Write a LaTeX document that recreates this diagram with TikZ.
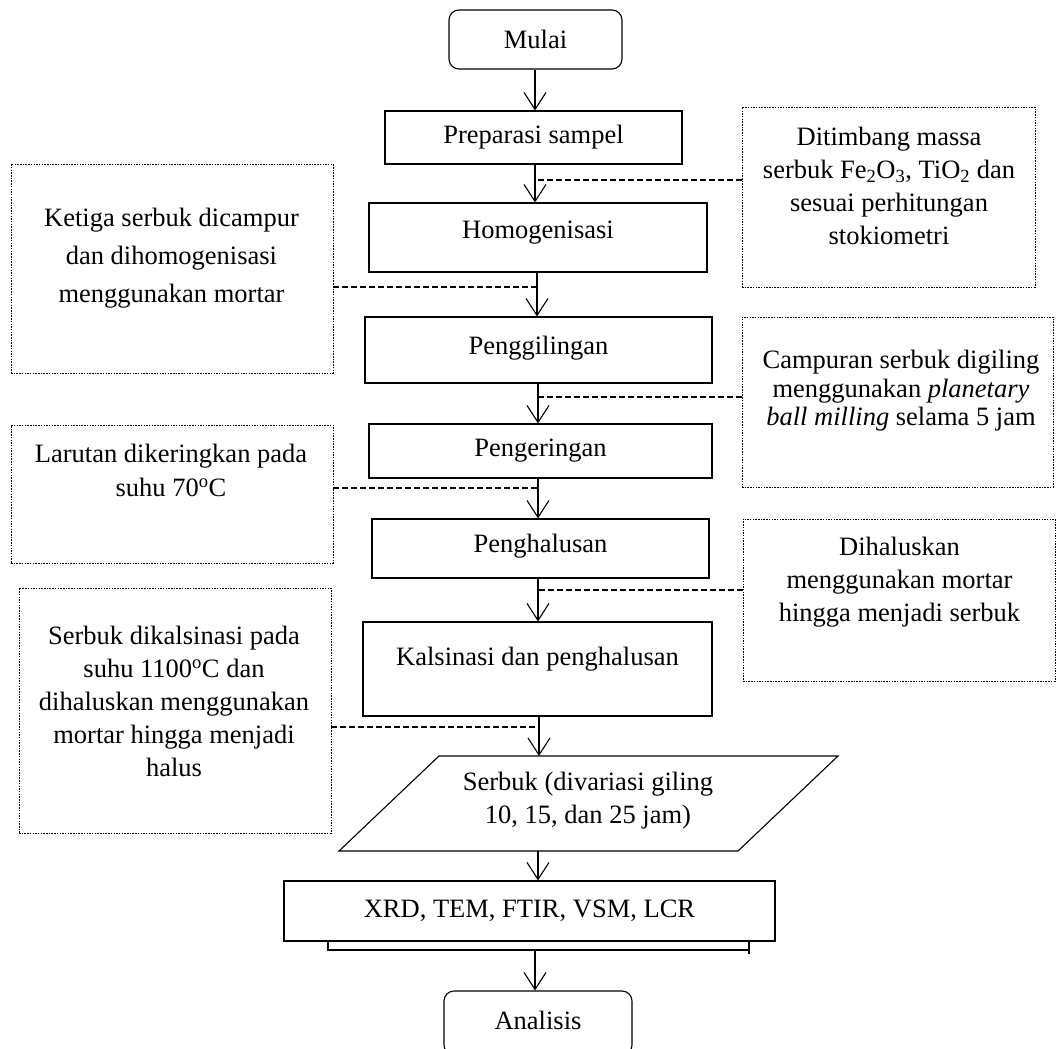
\documentclass[tikz,border=0pt]{standalone}
\usepackage{fontspec}
\setmainfont{Liberation Serif}
\usetikzlibrary{arrows.meta}
\tikzset{
  proc/.style={draw, line width=1.1pt, rectangle, inner sep=0pt},
  term/.style={draw, line width=1.1pt, rectangle, rounded corners=10pt, inner sep=0pt},
  note/.style={draw, line width=0.8pt, dash pattern=on 1.5pt off 1.2pt, inner sep=0pt},
  txt/.style={align=center, inner sep=0pt, font=\fontsize{26.5}{33}\selectfont},
  arr/.style={line width=1.1pt, -{Straight Barb[length=17pt,width=22pt]}},
  dsh/.style={line width=1.1pt, dash pattern=on 6pt off 3pt},
  ln/.style={line width=1.1pt},
}
\begin{document}
\begin{tikzpicture}[x=1pt,y=-1pt]
\clip (0,0) rectangle (1060,1049);
\fill[white] (0,0) rectangle (1060,1049);
% main column boxes
\node[term, minimum width=173pt, minimum height=59pt] (mulai) at (535.5,39.5) {};
\node[txt] (mulait) at (535.5,39.5) {Mulai};
\node[proc, minimum width=297pt, minimum height=53pt] (prep) at (533.5,137.5) {};
\node[txt] (prept) at (533.5,137.5) {Preparasi sampel};
\node[proc, minimum width=338pt, minimum height=69pt] (homo) at (538,237.5) {};
\node[txt] (homot) at (538,233) {Homogenisasi};
\node[proc, minimum width=347pt, minimum height=66pt] (gil) at (538.5,350) {};
\node[txt] (gilt) at (538.5,348) {Penggilingan};
\node[proc, minimum width=343pt, minimum height=54pt] (ker) at (540.5,451) {};
\node[txt] (kert) at (540.5,451) {Pengeringan};
\node[proc, minimum width=337pt, minimum height=59pt] (hal) at (540.5,548.5) {};
\node[txt] (halt) at (540.5,546) {Penghalusan};
\node[proc, minimum width=349pt, minimum height=94pt] (kal) at (537.5,669) {};
\node[txt] (kalt) at (537.5,659) {Kalsinasi dan penghalusan};
% parallelogram
\draw[ln] (439,756) -- (838,756) -- (738,851) -- (339,851) -- cycle;
\coordinate (sertop) at (539,756);
\coordinate (serbot) at (538,851);
\node[txt] (ser) at (588,801) {Serbuk (divariasi giling\\10, 15, dan 25 jam)};
\node[proc, minimum width=491pt, minimum height=60pt] (xrd) at (529.5,911) {};
\node[txt] (xrdt) at (529.5,911) {XRD, TEM, FTIR, VSM, LCR};
\draw[ln] (xrd.south -| 328,0) -- (328,950) -- (749,950);
\draw[ln] (xrd.south -| 749,0) -- (749,954);
\coordinate (br) at (535,950);
\node[term, minimum width=188pt, minimum height=64pt] (anl) at (538,1023) {};
\node[txt] (anlt) at (538,1020) {Analisis};
% side notes
\node[note, minimum width=293pt, minimum height=180pt] (dit) at (888.5,197) {};
\node[txt] (ditt) at (889,186) {Ditimbang massa\\serbuk Fe\textsubscript{2}O\textsubscript{3}, TiO\textsubscript{2} dan\\sesuai perhitungan\\stokiometri};
\node[note, minimum width=322pt, minimum height=209pt] (ket) at (172,268.5) {};
\node[txt, font=\fontsize{26.5}{38}\selectfont] (kett) at (171.5,258.5) {Ketiga serbuk dicampur\\dan dihomogenisasi\\menggunakan mortar};
\node[note, minimum width=311pt, minimum height=170pt] (cam) at (897.5,402) {};
\node[txt, font=\fontsize{26.5}{28.5}\selectfont] (camt) at (901,391) {Campuran serbuk digiling\\menggunakan \textit{planetary}\\\textit{ball milling} selama 5 jam};
\node[note, minimum width=322pt, minimum height=138pt] (lar) at (172,494) {};
\node[txt, font=\fontsize{26.5}{34}\selectfont] (lart) at (171,470) {Larutan dikeringkan pada\\suhu 70\textsuperscript{o}C};
\node[note, minimum width=312pt, minimum height=162pt] (dih) at (899,600) {};
\node[txt] (diht) at (899.5,582) {Dihaluskan\\menggunakan mortar\\hingga menjadi serbuk};
\node[note, minimum width=312pt, minimum height=245pt] (sdk) at (175,710.5) {};
\node[txt] (sdkt) at (174,701) {Serbuk dikalsinasi pada\\suhu 1100\textsuperscript{o}C dan\\dihaluskan menggunakan\\mortar hingga menjadi\\halus};
% main arrows
\draw[arr] (mulai.south -| 535,0) -- (prep.north -| 535,0);
\draw[arr] (prep.south -| 535,0) -- (homo.north -| 535,0);
\draw[arr] (homo.south -| 537,0) -- (gil.north -| 537,0);
\draw[arr] (gil.south -| 538,0) -- (ker.north -| 538,0);
\draw[arr] (ker.south -| 538,0) -- (hal.north -| 538,0);
\draw[arr] (hal.south -| 538,0) -- (kal.north -| 538,0);
\draw[arr] (kal.south -| 539,0) -- (sertop);
\draw[arr] (serbot) -- (xrd.north -| 538,0);
\draw[arr] (br) -- (anl.north -| 535,0);
% dashed connectors
\draw[dsh] (dit.west |- 0,180) -- (535,180);
\draw[dsh] (ket.east |- 0,287) -- (537,287);
\draw[dsh] (cam.west |- 0,397) -- (538,397);
\draw[dsh] (lar.east |- 0,488) -- (538,488);
\draw[dsh] (dih.west |- 0,590) -- (538,590);
\draw[dsh] (sdk.east |- 0,727) -- (539,727);
\end{tikzpicture}
\end{document}
